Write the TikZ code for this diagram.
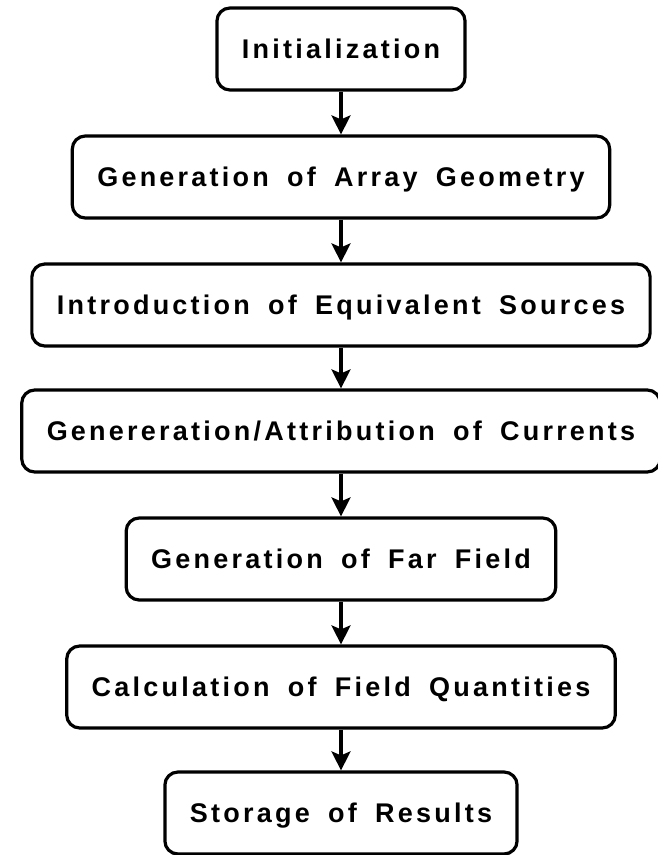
\documentclass[tikz,border=0pt]{standalone}
\usepackage{fontspec}
\setmainfont{Liberation Sans}
\newfontfamily\boxfont{Liberation Sans}[LetterSpace=12,WordSpace=1.7]
\usetikzlibrary{arrows.meta}
\begin{document}
\begin{tikzpicture}[x=1pt,y=-1pt,
  stepbox/.style={draw=black, line width=3.2pt, rounded corners=13pt,
    minimum height=82pt, inner xsep=25pt, text height=19.3pt, text depth=0pt,
    font=\boxfont\bfseries\fontsize{27pt}{31pt}\selectfont},
  arr/.style={line width=3.2pt, -{Stealth[length=19pt,width=19pt,inset=4pt]}}]
\useasboundingbox (0,0) rectangle (657,855);
\node[stepbox] (n1) at (341,49) {Initialization};
\node[stepbox] (n2) at (341,177) {Generation of Array Geometry};
\node[stepbox] (n3) at (341,305) {Introduction of Equivalent Sources};
\node[stepbox] (n4) at (341,431) {Genereration/Attribution of Currents};
\node[stepbox] (n5) at (341,559) {Generation of Far Field};
\node[stepbox] (n6) at (341,687) {Calculation of Field Quantities};
\node[stepbox] (n7) at (341,813) {Storage of Results};
\draw[arr] (n1.south) -- (n2.north);
\draw[arr] (n2.south) -- (n3.north);
\draw[arr] (n3.south) -- (n4.north);
\draw[arr] (n4.south) -- (n5.north);
\draw[arr] (n5.south) -- (n6.north);
\draw[arr] (n6.south) -- (n7.north);
\end{tikzpicture}
\end{document}
